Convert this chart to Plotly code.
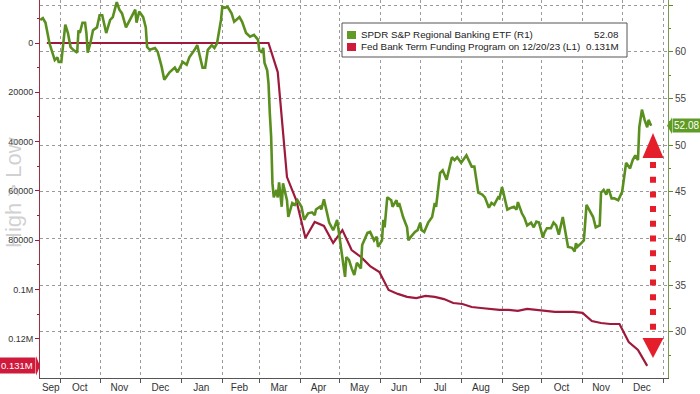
import plotly.graph_objects as go

# ---------------- data ----------------
kre_dates = [
    "2022-09-16", "2022-09-18", "2022-09-20", "2022-09-23", "2022-09-27", "2022-09-29", "2022-09-30",
    "2022-10-02", "2022-10-05", "2022-10-07", "2022-10-09", "2022-10-11", "2022-10-14", "2022-10-15",
    "2022-10-16", "2022-10-18", "2022-10-20", "2022-10-21", "2022-10-22", "2022-10-24", "2022-10-26",
    "2022-10-29", "2022-10-31", "2022-11-02", "2022-11-05", "2022-11-08", "2022-11-10", "2022-11-13",
    "2022-11-15", "2022-11-17", "2022-11-20", "2022-11-24", "2022-11-27", "2022-11-28", "2022-11-30",
    "2022-12-03", "2022-12-05", "2022-12-06", "2022-12-08", "2022-12-12", "2022-12-14", "2022-12-17",
    "2022-12-19", "2022-12-23", "2022-12-27", "2022-12-29", "2023-01-02", "2023-01-05", "2023-01-07",
    "2023-01-11", "2023-01-13", "2023-01-17", "2023-01-19", "2023-01-21", "2023-01-24", "2023-01-26",
    "2023-01-28", "2023-01-31", "2023-02-01", "2023-02-03", "2023-02-05", "2023-02-08", "2023-02-10",
    "2023-02-14", "2023-02-16", "2023-02-19", "2023-02-22", "2023-02-25", "2023-02-28", "2023-03-01",
    "2023-03-03", "2023-03-04", "2023-03-05", "2023-03-07", "2023-03-08", "2023-03-09", "2023-03-10",
    "2023-03-11", "2023-03-12", "2023-03-14", "2023-03-15", "2023-03-16", "2023-03-18", "2023-03-19",
    "2023-03-22", "2023-03-23", "2023-03-26", "2023-03-28", "2023-03-30", "2023-04-02", "2023-04-04",
    "2023-04-07", "2023-04-10", "2023-04-12", "2023-04-13", "2023-04-16", "2023-04-17", "2023-04-19",
    "2023-04-21", "2023-04-23", "2023-04-26", "2023-04-27", "2023-04-29", "2023-04-30", "2023-05-02",
    "2023-05-03", "2023-05-05", "2023-05-06", "2023-05-08", "2023-05-10", "2023-05-12", "2023-05-14",
    "2023-05-17", "2023-05-18", "2023-05-21", "2023-05-22", "2023-05-24", "2023-05-26", "2023-05-27",
    "2023-05-29", "2023-05-30", "2023-06-02", "2023-06-03", "2023-06-04", "2023-06-06", "2023-06-09",
    "2023-06-10", "2023-06-13", "2023-06-14", "2023-06-15", "2023-06-18", "2023-06-21", "2023-06-22",
    "2023-06-24", "2023-06-27", "2023-06-29", "2023-07-01", "2023-07-02", "2023-07-04", "2023-07-07",
    "2023-07-10", "2023-07-12", "2023-07-13", "2023-07-16", "2023-07-18", "2023-07-21", "2023-07-23",
    "2023-07-25", "2023-07-27", "2023-07-29", "2023-08-01", "2023-08-05", "2023-08-09", "2023-08-11",
    "2023-08-14", "2023-08-17", "2023-08-19", "2023-08-22", "2023-08-24", "2023-08-26", "2023-08-29",
    "2023-08-30", "2023-09-01", "2023-09-03", "2023-09-05", "2023-09-08", "2023-09-10", "2023-09-12",
    "2023-09-13", "2023-09-16", "2023-09-18", "2023-09-20", "2023-09-23", "2023-09-25", "2023-09-27",
    "2023-09-29", "2023-10-02", "2023-10-03", "2023-10-05", "2023-10-08", "2023-10-10", "2023-10-12",
    "2023-10-14", "2023-10-17", "2023-10-19", "2023-10-21", "2023-10-24", "2023-10-26", "2023-10-27",
    "2023-10-28", "2023-10-31", "2023-11-02", "2023-11-04", "2023-11-06", "2023-11-09", "2023-11-11",
    "2023-11-14", "2023-11-15", "2023-11-17", "2023-11-19", "2023-11-20", "2023-11-21", "2023-11-23",
    "2023-11-25", "2023-11-28", "2023-12-01", "2023-12-03", "2023-12-04", "2023-12-07", "2023-12-09",
    "2023-12-11", "2023-12-13", "2023-12-14", "2023-12-16", "2023-12-18", "2023-12-20", "2023-12-21",
    "2023-12-23",
]
kre_values = [
    63.4, 63.6, 63.1, 60.9, 59.1, 59.4, 58.9,
    58.9, 62.9, 62.0, 60.5, 60.2, 59.9, 62.3,
    62.0, 63.1, 63.1, 62.0, 59.9, 60.9, 62.3,
    62.6, 63.9, 63.9, 62.0, 63.4, 63.7, 65.3,
    64.5, 64.1, 62.6, 63.7, 64.5, 63.1, 64.3,
    63.7, 62.6, 60.5, 60.2, 60.4, 60.0, 58.4,
    57.0, 57.8, 58.3, 57.8, 58.9, 58.6, 59.4,
    60.2, 60.7, 58.3, 58.3, 60.2, 60.7, 60.4,
    60.9, 63.4, 64.8, 64.7, 64.8, 64.1, 63.2,
    63.7, 63.2, 62.0, 61.6, 61.8, 61.3, 60.2,
    59.9, 60.4, 58.8, 58.0, 56.6, 53.4, 50.9,
    45.9, 44.4, 45.2, 44.4, 46.0, 43.4, 45.9,
    44.1, 42.3, 43.8, 43.6, 44.1, 43.4, 42.0,
    42.7, 42.8, 42.5, 43.1, 43.4, 43.1, 44.2,
    42.8, 41.7, 40.9, 41.2, 42.0, 40.9, 39.1,
    37.7, 35.9, 38.0, 37.7, 36.8, 36.1, 37.4,
    36.8, 39.3, 40.2, 40.6, 40.7, 40.2, 39.8,
    40.2, 39.1, 39.8, 42.0, 41.2, 44.4, 44.1,
    43.4, 44.1, 43.4, 43.8, 42.3, 41.2, 39.8,
    40.2, 40.7, 40.9, 41.7, 40.9, 40.7, 41.7,
    42.3, 43.8, 43.4, 47.0, 47.3, 46.3, 47.7,
    48.7, 48.4, 48.7, 48.1, 48.9, 47.7, 47.7,
    44.9, 44.7, 44.4, 43.3, 43.8, 43.6, 44.4,
    44.3, 45.5, 44.4, 43.1, 43.3, 43.4, 43.1,
    43.9, 42.7, 42.2, 41.4, 41.7, 41.2, 41.8,
    41.7, 40.1, 40.6, 41.1, 41.1, 41.7, 41.4,
    40.4, 42.3, 40.7, 39.1, 39.0, 38.6, 39.5,
    39.1, 39.5, 39.8, 43.6, 43.1, 42.3, 41.2,
    41.4, 44.9, 45.2, 44.7, 45.2, 45.2, 44.3,
    44.3, 44.1, 45.0, 47.5, 48.1, 47.5, 48.4,
    48.9, 48.4, 51.9, 53.8, 52.7, 51.9, 52.7,
    52.08,
]

btfp_dates = [
    "2022-09-21", "2022-09-28", "2022-10-05", "2022-10-12", "2022-10-19", "2022-10-26",
    "2022-11-02", "2022-11-09", "2022-11-16", "2022-11-23", "2022-11-30", "2022-12-07",
    "2022-12-14", "2022-12-21", "2022-12-28", "2023-01-04", "2023-01-11", "2023-01-18",
    "2023-01-25", "2023-02-01", "2023-02-08", "2023-02-15", "2023-02-22", "2023-03-01",
    "2023-03-08", "2023-03-15", "2023-03-22", "2023-03-29", "2023-04-05", "2023-04-12",
    "2023-04-19", "2023-04-26", "2023-05-03", "2023-05-10", "2023-05-17", "2023-05-24",
    "2023-05-31", "2023-06-07", "2023-06-14", "2023-06-21", "2023-06-28", "2023-07-05",
    "2023-07-12", "2023-07-19", "2023-07-26", "2023-08-02", "2023-08-09", "2023-08-16",
    "2023-08-23", "2023-08-30", "2023-09-06", "2023-09-13", "2023-09-20", "2023-09-27",
    "2023-10-04", "2023-10-11", "2023-10-18", "2023-10-25", "2023-11-01", "2023-11-08",
    "2023-11-15", "2023-11-22", "2023-11-29", "2023-12-06", "2023-12-13", "2023-12-20",
]
btfp_values = [
    0, 0, 0, 0, 0, 0,
    0, 0, 0, 0, 0, 0,
    0, 0, 0, 0, 0, 0,
    0, 0, 0, 0, 0, 0,
    0, 11800, 54400, 63700, 79100, 72600,
    74200, 81100, 75900, 84000, 86800, 90500,
    92900, 100200, 101800, 103000, 103500, 102600,
    103000, 103900, 105500, 105900, 107100, 107500,
    107900, 108300, 108300, 108700, 107900, 108300,
    108700, 109100, 109100, 109100, 109500, 112800,
    113600, 114000, 114000, 121300, 124500, 131000,
]

month_labels = ["Sep", "Oct", "Nov", "Dec", "Jan", "Feb", "Mar", "Apr", "May",
                "Jun", "Jul", "Aug", "Sep", "Oct", "Nov", "Dec"]
month_label_pos = ["2022-09-24", "2022-10-16", "2022-11-15", "2022-12-16", "2023-01-16",
                   "2023-02-14", "2023-03-16", "2023-04-15", "2023-05-16", "2023-06-15",
                   "2023-07-16", "2023-08-16", "2023-09-15", "2023-10-16", "2023-11-15",
                   "2023-12-16"]
month_starts = ["2022-10-01", "2022-11-01", "2022-12-01", "2023-01-01", "2023-02-01",
                "2023-03-01", "2023-04-01", "2023-05-01", "2023-06-01", "2023-07-01",
                "2023-08-01", "2023-09-01", "2023-10-01", "2023-11-01", "2023-12-01",
                "2024-01-01"]

left_ticks = [0, 20000, 40000, 60000, 80000, 100000, 120000]
left_tick_text = ["0", "20000", "40000", "60000", "80000", "0.1M", "0.12M"]
left_minor = [-10000, 10000, 30000, 50000, 70000, 90000, 110000, 130000]
right_ticks = [30, 35, 40, 45, 50, 55, 60, 65]
right_minor = [27.5, 32.5, 37.5, 42.5, 47.5, 52.5, 57.5, 62.5]

kre_name = "SPDR S&P Regional Banking ETF (R1)"
btfp_name = "Fed Bank Term Funding Program on 12/20/23 (L1)"
kre_last = "52.08"
btfp_last = "0.131M"

GREEN = "#5a8f1f"
RED = "#9e1a3c"
GREEN_BADGE = "#5f9b25"
RED_BADGE = "#d01a3c"
ARROW_RED = "#e41e2b"
FONT = "Liberation Sans, Arial, sans-serif"

# plot-area geometry in pixels (used only to place decorations)
W, H = 700, 394
L, R, T, B = 40, 32, 0, 16
PW, PH = W - L - R, H - T - B


def px(x):
    return (x - L) / PW


def py(y):
    return 1 - (y - T) / PH


fig = go.Figure()
fig.add_trace(go.Scatter(x=btfp_dates, y=btfp_values, mode="lines", yaxis="y",
                         line=dict(color=RED, width=2.2), name=btfp_name, showlegend=False))
fig.add_trace(go.Scatter(x=kre_dates, y=kre_values, mode="lines", yaxis="y2",
                         line=dict(color=GREEN, width=2.6), name=kre_name, showlegend=False))

fig.update_layout(
    width=W, height=H,
    margin=dict(l=L, r=R, t=T, b=B, pad=0),
    paper_bgcolor="white", plot_bgcolor="white",
    font=dict(family=FONT, size=10, color="#333333"),
    showlegend=False,
    xaxis=dict(
        type="date", range=["2022-09-15 20:00", "2024-01-04 18:00"],
        tickvals=month_label_pos, ticktext=month_labels, ticks="", ticklen=0,
        showgrid=False, zeroline=False, showline=True, linecolor="#555555", linewidth=1,
        tickfont=dict(size=10, color="#333333"),
        minor=dict(tickvals=month_starts, ticks="outside", ticklen=4, tickcolor="#555555",
                   showgrid=True, gridcolor="#9a9a9a", griddash="dot", gridwidth=1),
    ),
    yaxis=dict(
        range=[135910, -17445], tickvals=left_ticks, ticktext=left_tick_text,
        ticks="outside", ticklen=4, tickcolor=RED, tickwidth=1,
        showline=True, linecolor="#9a3040", linewidth=1,
        showgrid=False, zeroline=False,
        tickfont=dict(size=9, color="#333333"),
        minor=dict(tickvals=left_minor, ticks="outside", ticklen=2, tickcolor=RED, showgrid=False),
    ),
    yaxis2=dict(
        overlaying="y", side="right", range=[25.064, 65.535], tickvals=right_ticks,
        ticks="outside", ticklen=4, tickcolor=GREEN, tickwidth=1,
        showline=True, linecolor="#7a9a50", linewidth=1,
        showgrid=True, gridcolor="#9a9a9a", griddash="dot", gridwidth=1, zeroline=False,
        tickfont=dict(size=10, color="#444444"),
        minor=dict(tickvals=right_minor, ticks="outside", ticklen=2, tickcolor=GREEN, showgrid=False),
    ),
)

shapes = []
# legend box
shapes.append(dict(type="rect", xref="paper", yref="paper", x0=px(342), x1=px(627),
                   y0=py(57), y1=py(23), line=dict(color="#555555", width=1),
                   fillcolor="white", layer="above"))
shapes.append(dict(type="rect", xref="paper", yref="paper", x0=px(347), x1=px(356),
                   y0=py(39), y1=py(31), line=dict(width=0), fillcolor=GREEN_BADGE, layer="above"))
shapes.append(dict(type="rect", xref="paper", yref="paper", x0=px(347), x1=px(356),
                   y0=py(51), y1=py(43), line=dict(width=0), fillcolor=RED_BADGE, layer="above"))
# red dotted double arrow
ax_c = px(653)
hw = 10.5 / PW
shapes.append(dict(type="line", xref="paper", yref="paper", x0=ax_c, x1=ax_c,
                   y0=py(162), y1=py(334),
                   line=dict(color=ARROW_RED, width=6, dash="6px,8.7px"), layer="above"))
shapes.append(dict(type="path", xref="paper", yref="paper",
                   path=f"M {ax_c - hw} {py(158)} L {ax_c + hw} {py(158)} L {ax_c} {py(133)} Z",
                   fillcolor=ARROW_RED, line=dict(width=0), layer="above"))
shapes.append(dict(type="path", xref="paper", yref="paper",
                   path=f"M {ax_c - hw} {py(338)} L {ax_c + hw} {py(338)} L {ax_c} {py(358)} Z",
                   fillcolor=ARROW_RED, line=dict(width=0), layer="above"))
# badge notches
shapes.append(dict(type="path", xref="paper", yref="y2",
                   path=f"M {px(667)} 52.08 L {px(672)} 52.95 L {px(672)} 51.2 Z",
                   fillcolor=GREEN_BADGE, line=dict(width=0), layer="above"))
shapes.append(dict(type="path", xref="paper", yref="y",
                   path=f"M {px(40)} 131000 L {px(36)} 127000 L {px(36)} 135000 Z",
                   fillcolor=RED_BADGE, line=dict(width=0), layer="above"))
fig.update_layout(shapes=shapes)

ann = []
ann.append(dict(xref="paper", yref="paper", x=px(359), y=py(35), xanchor="left", yanchor="middle",
                text=kre_name, showarrow=False, font=dict(size=9.8, color="#222222", family=FONT)))
ann.append(dict(xref="paper", yref="paper", x=px(359), y=py(47), xanchor="left", yanchor="middle",
                text=btfp_name, showarrow=False, font=dict(size=9.8, color="#222222", family=FONT)))
ann.append(dict(xref="paper", yref="paper", x=px(621), y=py(35), xanchor="right", yanchor="middle",
                text=kre_last, showarrow=False, font=dict(size=9.8, color="#222222", family=FONT)))
ann.append(dict(xref="paper", yref="paper", x=px(621), y=py(47), xanchor="right", yanchor="middle",
                text=btfp_last, showarrow=False, font=dict(size=9.8, color="#222222", family=FONT)))
# value badges
ann.append(dict(xref="paper", yref="y2", x=px(672), y=52.08, xanchor="left", yanchor="middle",
                text=kre_last, showarrow=False, bgcolor=GREEN_BADGE, borderpad=1,
                font=dict(size=10, color="white", family=FONT)))
ann.append(dict(xref="paper", yref="y", x=px(36), y=131000, xanchor="right", yanchor="middle",
                text=btfp_last, showarrow=False, bgcolor=RED_BADGE, borderpad=2,
                font=dict(size=9.5, color="white", family=FONT)))
# axis title
ann.append(dict(xref="paper", yref="paper", x=px(13), y=py(193), xanchor="center", yanchor="middle",
                text="High > Low", textangle=-90, showarrow=False,
                font=dict(size=22, color="rgba(170,170,170,0.55)", family=FONT)))
fig.update_layout(annotations=ann)

fig.write_html("out.html", config={"displayModeBar": False},
               post_script="document.body.style.margin='0';document.body.style.overflow='hidden';")
